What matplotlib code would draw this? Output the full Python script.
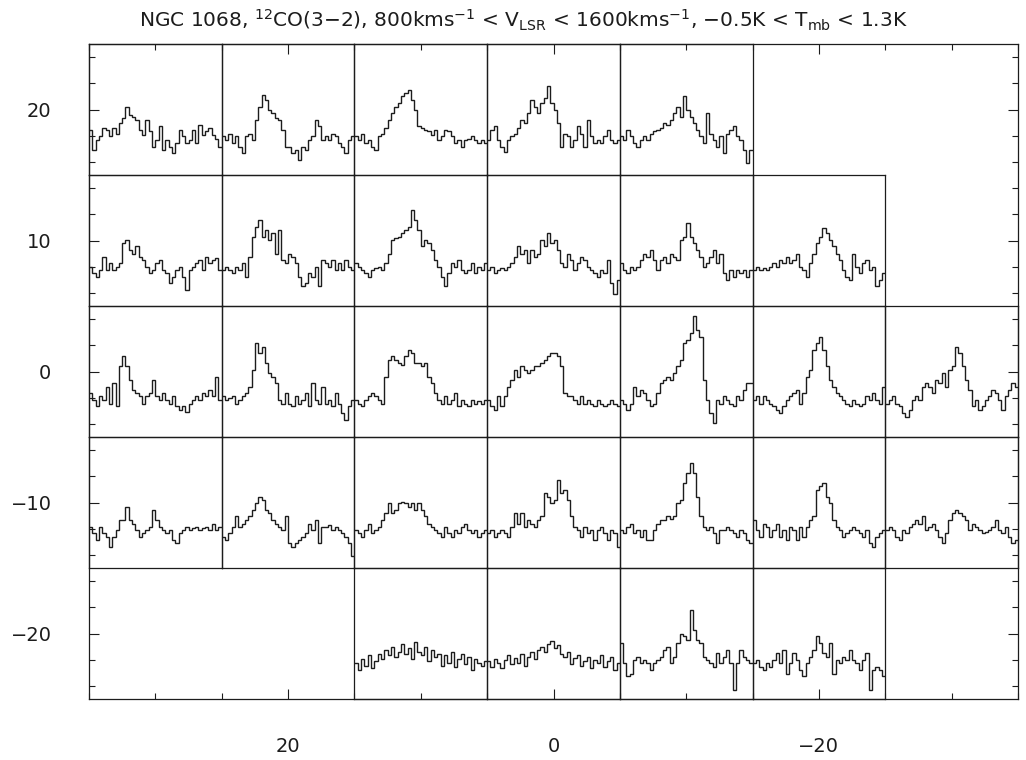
import matplotlib
matplotlib.use("Agg")
import matplotlib.pyplot as plt
import numpy as np

plt.rcParams['mathtext.default'] = 'regular'

# velocity range of every spectrum (km/s) and temperature range (K)
v_min, v_max = 800.0, 1600.0
t_min, t_max = -0.5, 1.3
n_chan = 40

# map offsets (arcsec) of each row and the panel offsets inside the row
row_y = [20, 10, 0, -10, -20]
row_x = [
    [30, 20, 10, 0, -10],
    [30, 20, 10, 0, -10, -20],
    [30, 20, 10, 0, -10, -20, -30],
    [30, 20, 10, 0, -10, -20, -30],
    [10, 0, -10, -20],
]

# T_mb (K) per channel, one list per panel
row_p20 = [
    [0.12, -0.16, -0.02, 0.03, 0.14, 0.12, 0.03, 0.14, 0.07, 0.21,
     0.28, 0.44, 0.33, 0.30, 0.26, 0.12, 0.05, 0.26, 0.10, -0.11,
     -0.02, 0.17, -0.16, -0.02, -0.11, -0.20, -0.06, 0.12, 0.03, -0.06,
     -0.02, 0.12, -0.06, 0.19, 0.05, 0.10, 0.14, 0.05, 0.00, -0.11],
    [0.03, -0.02, 0.07, -0.06, 0.03, -0.11, -0.20, 0.03, 0.07, -0.02,
     0.26, 0.44, 0.60, 0.53, 0.39, 0.35, 0.28, 0.26, 0.12, -0.11,
     -0.11, -0.20, -0.16, -0.29, -0.11, -0.16, -0.02, 0.03, 0.26, 0.17,
     -0.02, 0.03, -0.02, 0.07, 0.03, -0.06, -0.11, -0.20, -0.02, 0.03],
    [0.03, -0.02, 0.07, -0.06, -0.02, -0.11, -0.16, 0.03, 0.07, 0.14,
     0.26, 0.35, 0.44, 0.49, 0.58, 0.62, 0.67, 0.53, 0.39, 0.17,
     0.14, 0.12, 0.10, 0.05, 0.12, -0.02, 0.03, 0.12, 0.10, 0.03,
     -0.06, -0.02, -0.11, -0.02, 0.00, 0.03, -0.02, -0.06, -0.02, -0.06],
    [-0.02, 0.12, 0.17, -0.02, -0.11, -0.18, -0.02, 0.03, 0.07, 0.14,
     0.26, 0.21, 0.35, 0.53, 0.44, 0.35, 0.49, 0.56, 0.72, 0.49,
     0.39, 0.21, -0.11, 0.07, 0.03, -0.11, -0.02, 0.17, 0.07, -0.11,
     0.26, 0.03, -0.06, -0.02, -0.06, 0.03, 0.12, -0.02, -0.06, -0.02],
    [0.03, -0.02, 0.12, 0.03, -0.06, -0.11, -0.02, 0.03, -0.02, 0.07,
     0.10, 0.12, 0.14, 0.21, 0.19, 0.26, 0.35, 0.44, 0.30, 0.58,
     0.39, 0.30, 0.21, 0.12, 0.03, -0.06, 0.35, 0.07, -0.02, -0.11,
     0.03, -0.20, 0.07, 0.12, 0.17, 0.03, -0.02, -0.16, -0.34, -0.16],
]

row_p10 = [
    [0.04, -0.05, -0.10, 0.00, 0.18, 0.00, 0.09, 0.00, 0.04, 0.09,
     0.36, 0.41, 0.27, 0.22, 0.32, 0.18, 0.13, 0.04, -0.05, 0.00,
     0.09, 0.13, 0.00, -0.05, -0.19, -0.10, 0.00, 0.04, -0.10, -0.28,
     0.00, 0.04, 0.09, 0.13, 0.00, 0.18, 0.09, 0.13, 0.16, 0.00],
    [0.00, 0.04, 0.00, -0.05, 0.04, 0.00, 0.09, -0.10, 0.18, 0.45,
     0.59, 0.68, 0.45, 0.55, 0.41, 0.50, 0.22, 0.55, 0.13, 0.09,
     0.22, 0.18, 0.09, -0.10, -0.23, -0.19, -0.05, -0.10, 0.04, -0.23,
     0.13, 0.09, 0.04, 0.13, 0.00, 0.09, 0.00, 0.13, 0.04, 0.00],
    [0.09, 0.04, 0.00, -0.05, -0.10, 0.00, 0.02, 0.04, 0.00, 0.09,
     0.22, 0.41, 0.43, 0.45, 0.50, 0.55, 0.59, 0.82, 0.68, 0.55,
     0.32, 0.41, 0.36, 0.27, 0.13, 0.04, -0.10, -0.23, -0.05, 0.09,
     0.04, 0.13, 0.00, -0.05, 0.00, 0.09, -0.05, 0.04, 0.00, 0.09],
    [0.00, 0.04, -0.05, 0.00, 0.02, 0.00, 0.04, 0.09, 0.18, 0.32,
     0.22, 0.27, 0.09, 0.27, 0.18, 0.22, 0.41, 0.32, 0.50, 0.36,
     0.41, 0.27, 0.09, 0.04, 0.22, 0.13, 0.00, 0.09, 0.18, 0.13,
     0.04, 0.00, -0.05, -0.10, 0.00, -0.05, 0.13, -0.19, -0.33, -0.14],
    [0.09, 0.00, -0.05, 0.04, 0.00, 0.04, 0.13, 0.22, 0.18, 0.27,
     0.13, 0.00, 0.13, 0.18, 0.09, 0.22, 0.18, 0.13, 0.41, 0.45,
     0.64, 0.45, 0.36, 0.27, 0.18, 0.04, 0.09, 0.18, 0.27, 0.09,
     0.22, -0.05, -0.14, 0.00, -0.10, 0.00, -0.05, 0.00, -0.10, 0.00],
    [0.00, 0.04, 0.00, 0.02, 0.00, 0.04, 0.09, 0.04, 0.13, 0.09,
     0.18, 0.09, 0.13, 0.22, 0.04, 0.00, -0.10, 0.09, 0.22, 0.36,
     0.45, 0.57, 0.50, 0.41, 0.32, 0.22, 0.13, 0.00, -0.10, -0.14,
     0.22, 0.04, -0.05, 0.09, 0.13, 0.00, 0.04, -0.23, -0.14, -0.05],
]

row_0 = [
    [0.10, 0.01, -0.08, 0.06, 0.01, 0.19, -0.04, 0.24, -0.08, 0.47,
     0.61, 0.47, 0.28, 0.15, 0.10, 0.06, -0.04, 0.06, 0.10, 0.28,
     0.06, 0.01, 0.10, 0.01, -0.04, 0.06, -0.08, -0.13, -0.08, -0.15,
     -0.04, 0.01, 0.06, 0.01, 0.10, 0.06, 0.15, 0.06, 0.33, 0.01],
    [0.06, 0.01, 0.03, 0.06, -0.04, 0.01, 0.06, 0.10, 0.19, 0.42,
     0.79, 0.65, 0.74, 0.51, 0.38, 0.33, 0.24, 0.01, -0.04, 0.10,
     -0.04, -0.08, 0.06, -0.04, 0.01, 0.10, -0.08, 0.24, 0.01, -0.04,
     0.19, -0.04, 0.01, -0.08, 0.10, -0.04, -0.17, -0.27, -0.08, 0.01],
    [0.01, -0.04, -0.08, 0.01, 0.06, 0.10, 0.06, 0.01, -0.04, 0.33,
     0.56, 0.61, 0.56, 0.51, 0.49, 0.61, 0.70, 0.65, 0.51, 0.51,
     0.47, 0.51, 0.33, 0.24, 0.10, 0.01, -0.04, 0.06, -0.04, 0.01,
     0.10, -0.08, 0.01, -0.04, -0.08, 0.01, -0.04, -0.01, -0.04, 0.01],
    [0.01, -0.08, -0.13, 0.06, -0.08, 0.06, 0.19, 0.28, 0.42, 0.33,
     0.47, 0.42, 0.38, 0.42, 0.47, 0.47, 0.51, 0.56, 0.61, 0.65,
     0.65, 0.61, 0.47, 0.10, 0.06, 0.06, 0.01, -0.04, 0.06, -0.04,
     0.01, -0.04, -0.08, 0.01, -0.04, -0.08, -0.04, 0.01, -0.04, -0.08],
    [0.01, -0.04, -0.13, -0.04, 0.19, 0.06, 0.15, 0.10, 0.01, -0.08,
     -0.04, 0.10, 0.24, 0.28, 0.33, 0.28, 0.38, 0.47, 0.56, 0.79,
     0.83, 0.93, 1.16, 0.97, 0.88, 0.28, 0.01, -0.17, -0.31, 0.01,
     -0.04, 0.06, 0.01, -0.04, -0.08, 0.06, 0.01, 0.15, 0.24, 0.24],
    [0.01, 0.06, -0.04, 0.06, 0.01, -0.04, -0.08, -0.13, -0.17, -0.08,
     0.01, 0.06, 0.10, 0.15, -0.04, 0.10, 0.33, 0.42, 0.70, 0.79,
     0.88, 0.70, 0.47, 0.28, 0.19, 0.10, 0.06, 0.01, -0.04, -0.08,
     0.01, -0.04, -0.08, -0.04, 0.06, 0.01, 0.10, 0.01, -0.04, 0.19],
    [-0.04, 0.01, 0.06, -0.04, -0.08, -0.17, -0.22, -0.13, 0.01, 0.06,
     0.01, 0.19, 0.24, 0.19, 0.10, 0.28, 0.24, 0.38, 0.19, 0.42,
     0.47, 0.74, 0.65, 0.47, 0.28, 0.15, -0.08, 0.01, -0.13, -0.08,
     0.01, 0.06, 0.15, 0.10, 0.01, -0.13, 0.06, 0.15, 0.24, 0.19],
]

row_m10 = [
    [0.07, -0.02, -0.11, 0.07, -0.02, -0.07, -0.21, -0.07, 0.02, 0.16,
     0.16, 0.34, 0.16, 0.11, 0.02, -0.07, -0.02, 0.02, 0.07, 0.30,
     0.16, 0.07, 0.02, -0.02, 0.02, -0.11, -0.16, -0.02, 0.02, 0.07,
     0.02, 0.05, 0.07, 0.02, 0.05, 0.07, 0.02, 0.11, 0.02, 0.07],
    [-0.07, -0.11, -0.02, 0.07, 0.21, 0.07, 0.11, 0.16, 0.21, 0.30,
     0.39, 0.48, 0.44, 0.30, 0.25, 0.16, 0.11, 0.07, 0.02, 0.21,
     -0.16, -0.21, -0.16, -0.11, -0.07, -0.02, 0.11, 0.02, 0.16, -0.16,
     0.07, 0.07, 0.09, 0.02, 0.07, 0.02, -0.02, -0.07, -0.16, -0.34],
    [0.02, -0.02, -0.07, 0.02, 0.11, -0.02, 0.02, 0.07, 0.16, 0.25,
     0.39, 0.25, 0.30, 0.39, 0.41, 0.39, 0.34, 0.39, 0.30, 0.39,
     0.30, 0.21, 0.11, 0.07, 0.02, -0.02, -0.07, 0.07, -0.02, -0.07,
     0.02, -0.02, 0.07, 0.11, 0.02, -0.02, 0.02, -0.07, -0.02, 0.02],
    [-0.02, 0.02, -0.07, -0.02, 0.02, -0.02, -0.07, 0.07, 0.25, 0.11,
     0.25, 0.07, 0.16, 0.11, 0.07, 0.16, 0.21, 0.53, 0.48, 0.39,
     0.44, 0.71, 0.53, 0.57, 0.44, 0.21, 0.07, 0.02, -0.07, 0.07,
     -0.02, 0.02, -0.11, 0.02, 0.07, -0.02, -0.11, 0.02, -0.02, -0.21],
    [0.02, -0.02, 0.07, 0.11, -0.02, 0.02, -0.07, 0.02, -0.11, -0.11,
     0.02, 0.11, 0.16, 0.16, 0.21, 0.18, 0.21, 0.39, 0.44, 0.67,
     0.80, 0.94, 0.80, 0.48, 0.21, 0.07, 0.02, 0.07, -0.02, -0.16,
     0.02, 0.02, 0.07, 0.02, -0.02, -0.07, 0.02, -0.02, -0.11, -0.16],
    [0.16, 0.02, -0.07, 0.11, 0.07, -0.07, 0.02, 0.11, -0.07, 0.02,
     -0.11, 0.07, 0.02, -0.11, 0.07, -0.07, 0.07, 0.16, 0.21, 0.57,
     0.62, 0.67, 0.48, 0.39, 0.16, 0.07, 0.02, -0.07, -0.02, 0.02,
     0.07, 0.02, -0.02, -0.07, 0.02, -0.16, -0.21, -0.07, -0.02, 0.02],
    [0.02, 0.07, 0.02, -0.07, -0.11, 0.02, -0.02, 0.07, 0.11, 0.16,
     0.11, 0.21, 0.02, 0.07, 0.11, 0.02, -0.07, -0.16, -0.02, 0.16,
     0.25, 0.30, 0.25, 0.21, 0.16, 0.02, 0.11, 0.07, 0.02, -0.02,
     0.00, 0.02, 0.07, 0.16, 0.02, -0.02, 0.07, -0.07, -0.16, -0.11],
]

row_m20 = [
    [0.00, -0.10, 0.05, -0.05, 0.10, -0.08, 0.02, 0.12, 0.05, 0.18,
     0.10, 0.22, 0.08, 0.15, 0.25, 0.12, 0.20, 0.05, 0.28, 0.15,
     0.10, 0.22, 0.02, 0.18, 0.08, 0.12, -0.05, 0.10, 0.00, 0.15,
     -0.06, 0.05, 0.12, -0.02, 0.08, -0.10, 0.05, 0.00, -0.04, 0.02],
    [0.02, -0.06, 0.05, 0.00, -0.08, 0.04, 0.10, -0.02, 0.06, 0.00,
     0.12, -0.04, 0.08, 0.15, 0.05, 0.18, 0.22, 0.14, 0.25, 0.30,
     0.20, 0.24, 0.12, 0.08, 0.15, -0.02, 0.06, 0.10, -0.05, 0.02,
     0.08, -0.08, 0.04, 0.00, 0.10, -0.06, 0.02, 0.08, -0.10, 0.00],
    [0.27, -0.01, -0.19, -0.15, 0.04, 0.08, -0.01, 0.04, -0.01, -0.10,
     -0.01, 0.04, 0.08, 0.17, 0.22, -0.01, 0.08, 0.27, 0.40, 0.36,
     0.31, 0.72, 0.45, 0.31, 0.27, 0.08, 0.04, -0.01, -0.06, 0.13,
     -0.01, 0.08, 0.17, -0.01, -0.38, -0.01, 0.17, 0.08, 0.04, -0.01],
    [-0.01, 0.04, -0.06, -0.10, -0.01, -0.06, 0.04, 0.13, -0.01, 0.17,
     -0.15, -0.01, 0.13, 0.04, -0.10, -0.19, -0.01, 0.08, 0.17, 0.36,
     0.27, 0.13, 0.08, 0.27, -0.15, 0.04, -0.01, 0.08, 0.04, 0.17,
     0.04, -0.01, -0.10, 0.04, 0.13, -0.38, -0.10, -0.06, -0.10, -0.19],
]

spectra = [row_p20, row_p10, row_0, row_m10, row_m20]

line_col = '#1c1c1c'

fig = plt.figure(figsize=(10.26, 7.6), dpi=100)
ax = fig.add_axes([89 / 1026, 1 - 699 / 760, 929 / 1026, 655 / 760])
ax.set_xlim(35, -35)
ax.set_ylim(-25, 25)
ax.set_xticks([20, 0, -20])
ax.set_xticks(np.arange(-35, 36, 5), minor=True)
ax.set_yticks([20, 10, 0, -10, -20])
ax.set_yticks(np.arange(-24, 25, 2), minor=True)
ax.tick_params(which='both', direction='in', top=True, right=True,
               colors=line_col, labelsize=14, width=0.8)
ax.tick_params(which='major', length=7)
ax.tick_params(which='minor', length=4)
ax.tick_params(axis='x', pad=27)
ax.tick_params(axis='y', pad=27)
for s in ax.spines.values():
    s.set_color(line_col)
    s.set_linewidth(0.9)

fig.text(0.51, 0.973,
         r'NGC 1068, $^{12}$CO(3$-$2), 800kms$^{-1}$ < V$_{LSR}$ < '
         r'1600kms$^{-1}$, $-$0.5K < T$_{mb}$ < 1.3K',
         ha='center', va='center', fontsize=14.5, color=line_col)

v_edges = np.linspace(v_min, v_max, n_chan + 1)
to_fig = fig.transFigure.inverted()

for yc, xs, row in zip(row_y, row_x, spectra):
    for xc, tmb in zip(xs, row):
        # panel box in map offsets -> figure fraction
        p0 = to_fig.transform(ax.transData.transform((xc + 5, yc - 5)))
        p1 = to_fig.transform(ax.transData.transform((xc - 5, yc + 5)))
        pax = fig.add_axes([p0[0], p0[1], p1[0] - p0[0], p1[1] - p0[1]])
        pax.stairs(tmb, v_edges, baseline=None, color=line_col, lw=1.0)
        pax.set_xlim(v_min, v_max)
        pax.set_ylim(t_min, t_max)
        pax.set_xticks([])
        pax.set_yticks([])
        pax.patch.set_alpha(0)
        for s in pax.spines.values():
            s.set_color(line_col)
            s.set_linewidth(0.9)

fig.savefig('out.png', dpi=100)
